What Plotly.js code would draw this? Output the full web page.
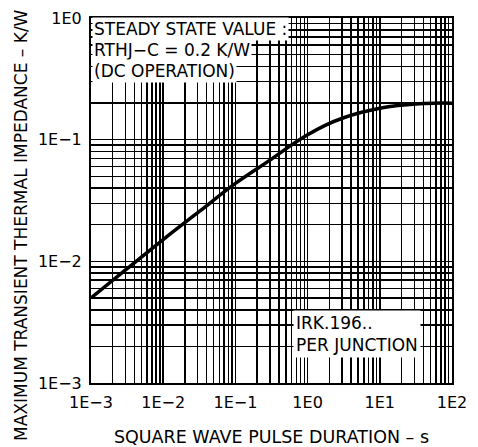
<!DOCTYPE html>
<html>
<head>
<meta charset="utf-8">
<script src="https://cdn.plot.ly/plotly-3.0.1.min.js"></script>
<style>
  html, body { margin: 0; padding: 0; background: #fff; }
  #chart { width: 478px; height: 447px; }
</style>
</head>
<body>
<div id="chart"></div>
<script>
// Square wave pulse duration (s)
const pulseDuration = [0.001, 0.00316, 0.01, 0.0316, 0.1, 0.316, 0.562, 1, 1.78, 3.16, 5.62, 10, 17.8, 31.6, 56.2, 100];
// Maximum transient thermal impedance (K/W)
const impedance = [0.0050, 0.0087, 0.0151, 0.0257, 0.0437, 0.0692, 0.0881, 0.1096, 0.1318, 0.1514, 0.1679, 0.1811, 0.1905, 0.1968, 0.1995, 0.1995];

const xDecades = [-3, -2, -1, 0, 1, 2];
const xTickLabels = ['1E\u22123', '1E\u22122', '1E\u22121', '1E0', '1E1', '1E2'];
const yDecades = [-3, -2, -1, 0];
const yTickLabels = ['1E\u22123', '1E\u22122', '1E\u22121', '1E0'];

const xTitle = 'SQUARE WAVE PULSE DURATION \u2013 s';
const yTitle = 'MAXIMUM TRANSIENT THERMAL IMPEDANCE \u2013 K/W';
const annotationLines = ['STEADY STATE VALUE :', 'RTHJ\u2212C = 0.2 K/W', '(DC OPERATION)'];
const partLines = 'IRK.196..<br>PER JUNCTION';

function logGrid(decades, labels) {
  const vals = [], text = [];
  decades.forEach((d, i) => {
    vals.push(Math.pow(10, d)); text.push(labels[i]);
    if (i < decades.length - 1) {
      for (let m = 2; m <= 9; m++) { vals.push(m * Math.pow(10, d)); text.push(''); }
    }
  });
  return {vals, text};
}
const xg = logGrid(xDecades, xTickLabels);
const yg = logGrid(yDecades, yTickLabels);

const FONT = 'DejaVu Sans, Arial, sans-serif';

const trace = {
  x: pulseDuration, y: impedance, type: 'scatter', mode: 'lines',
  line: {color: '#000', width: 3.5, shape: 'spline', smoothing: 1},
  hoverinfo: 'skip'
};

const axisCommon = {
  type: 'log', showgrid: true, gridcolor: '#000', gridwidth: 1.5,
  showline: true, linecolor: '#000', linewidth: 2, mirror: true,
  ticks: 'outside', ticklen: 4, tickcolor: 'rgba(0,0,0,0)',
  tickmode: 'array', zeroline: false,
  tickfont: {family: FONT, size: 16, color: '#000'}
};

const annotations = annotationLines.map((t, i) => ({
  xref: 'paper', yref: 'paper', x: 0.003, y: [0.970, 0.912, 0.855][i],
  xanchor: 'left', yanchor: 'middle', showarrow: false, text: t,
  bgcolor: '#fff', borderpad: 1,
  font: {family: FONT, size: 17, color: '#000'}
}));
annotations.push({
  xref: 'paper', yref: 'paper', x: 0.56, y: 0.135,
  xanchor: 'left', yanchor: 'middle', showarrow: false, text: partLines,
  align: 'left', bgcolor: '#fff', borderpad: 2,
  font: {family: FONT, size: 17, color: '#000'}
});
// Y axis title (drawn as rotated text centred on the full figure height, as in the original)
annotations.push({
  xref: 'paper', yref: 'paper', x: -0.194, y: 0.433,
  xanchor: 'center', yanchor: 'middle', showarrow: false, textangle: -90,
  text: yTitle, font: {family: FONT, size: 17, color: '#000'}
});

const layout = {
  width: 478, height: 447,
  margin: {l: 91, r: 26, t: 18, b: 64},
  paper_bgcolor: '#fff', plot_bgcolor: '#fff',
  showlegend: false,
  xaxis: Object.assign({}, axisCommon, {
    range: [-3, 2], tickvals: xg.vals, ticktext: xg.text,
    title: {text: xTitle, font: {family: FONT, size: 17.5, color: '#000'}}
  }),
  yaxis: Object.assign({}, axisCommon, {
    range: [-3, 0], tickvals: yg.vals, ticktext: yg.text
  }),
  annotations: annotations
};

Plotly.newPlot('chart', [trace], layout, {staticPlot: true, displayModeBar: false});
</script>
</body>
</html>
